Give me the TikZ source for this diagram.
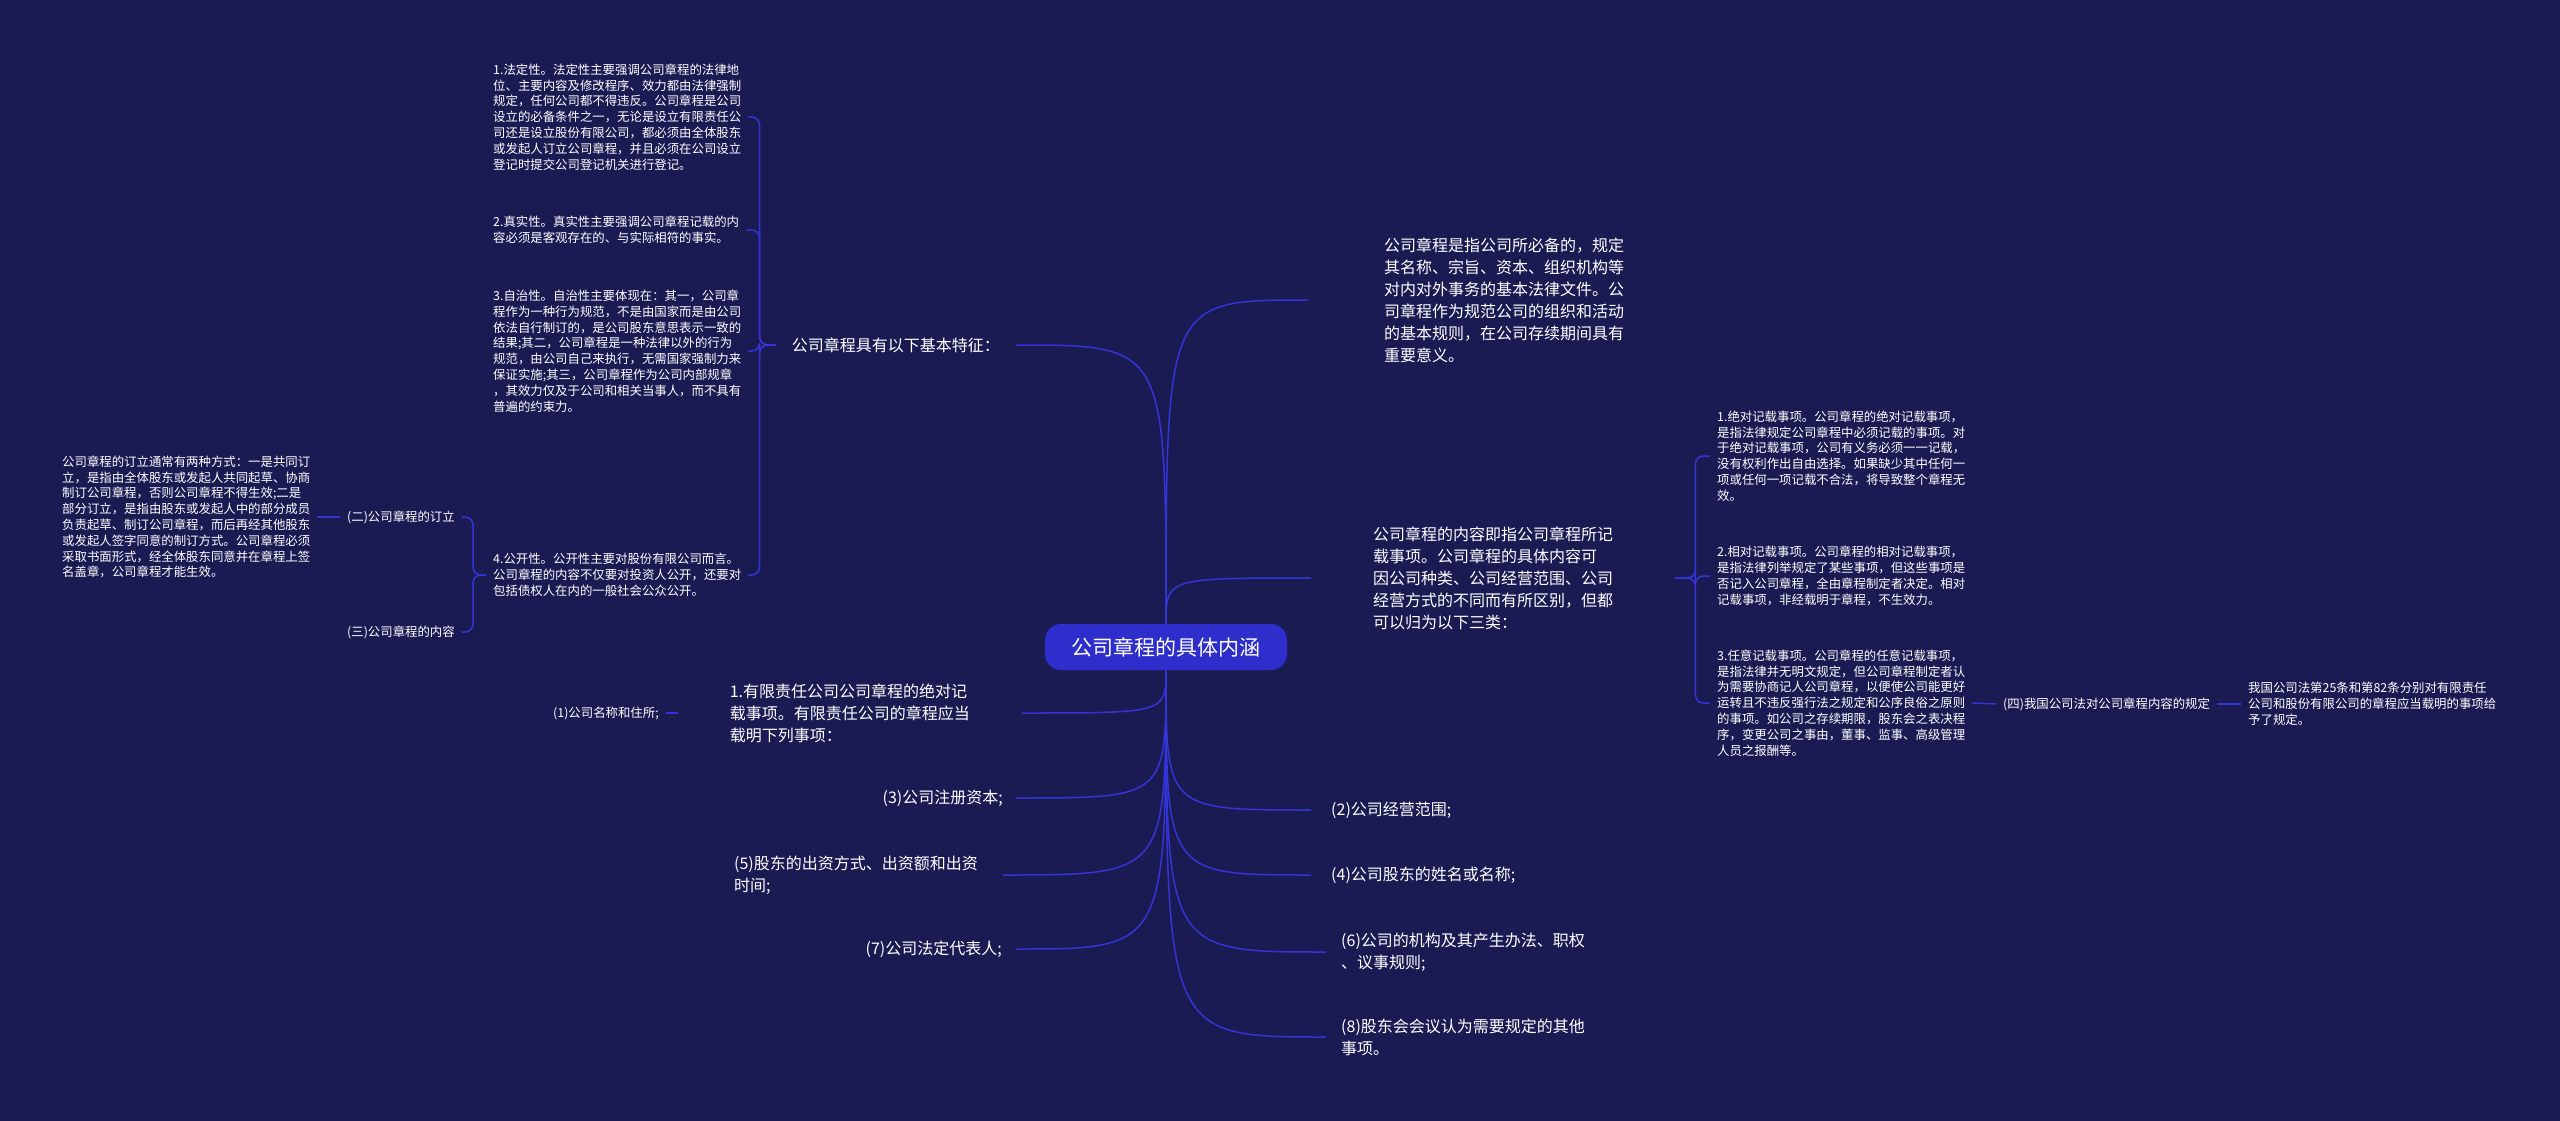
\documentclass[tikz,border=0pt]{standalone}
\usepackage{fontspec}
\setmainfont{Noto Sans CJK SC}
\definecolor{PageNavy}{RGB}{27,27,84}
\definecolor{LineBlue}{RGB}{52,52,214}
\definecolor{RootBlue}{RGB}{46,46,204}

\begin{document}
\begin{tikzpicture}[x=1pt, y=-1pt,
  every node/.style={text=white, align=left, inner ysep=2pt},
  bigtxt/.style={font=\fontsize{16}{22}\selectfont},
  smalltxt/.style={font=\fontsize{12.4}{15.8}\selectfont, inner xsep=7pt, anchor=west},
  conn/.style={draw=LineBlue, line width=1.5pt}]
\fill[PageNavy] (0,0) rectangle (2560,1121);
\useasboundingbox (0,0) rectangle (2560,1121);

% centre
\node[fill=RootBlue, rounded corners=16pt, minimum width=242pt, minimum height=46pt, font=\fontsize{21}{21}\selectfont] (root) at (1166,647) {公司章程的具体内涵};

% right branches
\node[bigtxt, anchor=west, inner xsep=76pt] (r1) at (1308,300) {公司章程是指公司所必备的，规定\\其名称、宗旨、资本、组织机构等\\对内对外事务的基本法律文件。公\\司章程作为规范公司的组织和活动\\的基本规则，在公司存续期间具有\\重要意义。};
\node[bigtxt, anchor=west, inner xsep=62pt] (r2) at (1311,578) {公司章程的内容即指公司章程所记\\载事项。公司章程的具体内容可\\因公司种类、公司经营范围、公司\\经营方式的不同而有所区别，但都\\可以归为以下三类：};
\node[bigtxt, anchor=west, inner xsep=20pt] (r3) at (1311,810) {(2)公司经营范围;};
\node[bigtxt, anchor=west, inner xsep=20pt] (r4) at (1311,875) {(4)公司股东的姓名或名称;};
\node[bigtxt, anchor=west, inner xsep=15pt] (r5) at (1326,952) {(6)公司的机构及其产生办法、职权\\、议事规则;};
\node[bigtxt, anchor=west, inner xsep=15pt] (r6) at (1326,1037) {(8)股东会会议认为需要规定的其他\\事项。};

% left branches
\node[bigtxt, anchor=east, inner xsep=16pt] (l1) at (1016,345) {公司章程具有以下基本特征：};
\node[bigtxt, anchor=east, inner xsep=52pt] (l2) at (1022,713) {1.有限责任公司公司章程的绝对记\\载事项。有限责任公司的章程应当\\载明下列事项：};
\node[bigtxt, anchor=east, inner xsep=13pt] (l3) at (1016,798) {(3)公司注册资本;};
\node[bigtxt, anchor=east, inner xsep=25pt] (l4) at (1003,875) {(5)股东的出资方式、出资额和出资\\时间;};
\node[bigtxt, anchor=east, inner xsep=14pt] (l5) at (1016,949) {(7)公司法定代表人;};

% features
\node[smalltxt] (b1) at (486,117) {1.法定性。法定性主要强调公司章程的法律地\\位、主要内容及修改程序、效力都由法律强制\\规定，任何公司都不得违反。公司章程是公司\\设立的必备条件之一，无论是设立有限责任公\\司还是设立股份有限公司，都必须由全体股东\\或发起人订立公司章程，并且必须在公司设立\\登记时提交公司登记机关进行登记。};
\node[smalltxt] (b2) at (486,230) {2.真实性。真实性主要强调公司章程记载的内\\容必须是客观存在的、与实际相符的事实。};
\node[smalltxt] (b3) at (486,351) {3.自治性。自治性主要体现在：其一，公司章\\程作为一种行为规范，不是由国家而是由公司\\依法自行制订的，是公司股东意思表示一致的\\结果;其二，公司章程是一种法律以外的行为\\规范，由公司自己来执行，无需国家强制力来\\保证实施;其三，公司章程作为公司内部规章\\，其效力仅及于公司和相关当事人，而不具有\\普遍的约束力。};
\node[smalltxt] (b4) at (486,575) {4.公开性。公开性主要对股份有限公司而言。\\公司章程的内容不仅要对投资人公开，还要对\\包括债权人在内的一般社会公众公开。};
\node[smalltxt] (s2) at (340,517) {(二)公司章程的订立};
\node[smalltxt] (s3) at (340,632) {(三)公司章程的内容};
\node[smalltxt] (lb) at (55,517) {公司章程的订立通常有两种方式：一是共同订\\立，是指由全体股东或发起人共同起草、协商\\制订公司章程，否则公司章程不得生效;二是\\部分订立，是指由股东或发起人中的部分成员\\负责起草、制订公司章程，而后再经其他股东\\或发起人签字同意的制订方式。公司章程必须\\采取书面形式，经全体股东同意并在章程上签\\名盖章，公司章程才能生效。};
\node[smalltxt] (n1) at (546,713) {(1)公司名称和住所;};

% kinds of items
\node[smalltxt] (k1) at (1710,456) {1.绝对记载事项。公司章程的绝对记载事项，\\是指法律规定公司章程中必须记载的事项。对\\于绝对记载事项，公司有义务必须一一记载，\\没有权利作出自由选择。如果缺少其中任何一\\项或任何一项记载不合法，将导致整个章程无\\效。};
\node[smalltxt] (k2) at (1710,576) {2.相对记载事项。公司章程的相对记载事项，\\是指法律列举规定了某些事项，但这些事项是\\否记入公司章程，全由章程制定者决定。相对\\记载事项，非经载明于章程，不生效力。};
\node[smalltxt] (k3) at (1710,703) {3.任意记载事项。公司章程的任意记载事项，\\是指法律并无明文规定，但公司章程制定者认\\为需要协商记人公司章程，以便使公司能更好\\运转且不违反强行法之规定和公序良俗之原则\\的事项。如公司之存续期限，股东会之表决程\\序，变更公司之事由，董事、监事、高级管理\\人员之报酬等。};
\node[smalltxt] (q4) at (1996,704) {(四)我国公司法对公司章程内容的规定};
\node[smalltxt] (fr) at (2241,704) {我国公司法第25条和第82条分别对有限责任\\公司和股份有限公司的章程应当载明的事项给\\予了规定。};

% connectors
\foreach \n in {r1,r2,r3,r4,r5,r6}
  \draw[conn] (root) .. controls (root |- \n.west) .. (\n.west);
\foreach \n in {l1,l2,l3,l4,l5}
  \draw[conn] (root) .. controls (root |- \n.east) .. (\n.east);
\foreach \n in {b1,b2,b3,b4}
  \draw[conn, rounded corners=8pt] (l1.west) -- ++(-16,0) |- (\n.east);
\foreach \n in {s2,s3}
  \draw[conn, rounded corners=8pt] (b4.west) -- ++(-13,0) |- (\n.east);
\draw[conn] (s2.west) -- (lb.east);
\draw[conn] (l2.west) -- (n1.east);
\foreach \n in {k1,k2,k3}
  \draw[conn, rounded corners=8pt] (r2.east) -- ++(20,0) |- (\n.west);
\draw[conn] (k3.east) -- (q4.west);
\draw[conn] (q4.east) -- (fr.west);
\end{tikzpicture}
\end{document}
